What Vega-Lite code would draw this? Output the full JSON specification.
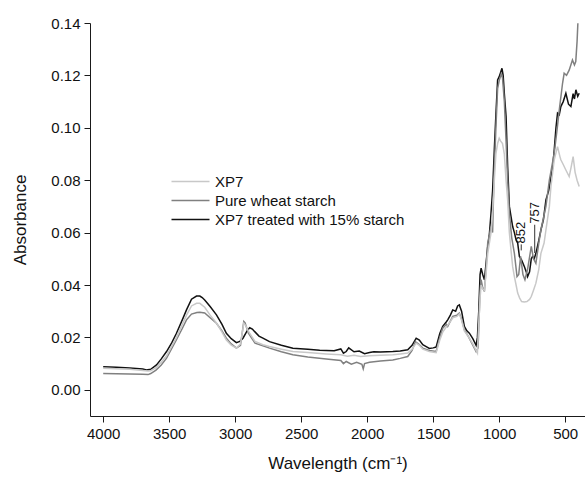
{
  "$schema": "https://vega.github.io/schema/vega-lite/v6.json",
  "autosize": "none",
  "width": 495,
  "height": 393,
  "padding": {"left": 90, "top": 23, "right": 0, "bottom": 65},
  "background": "white",
  "config": {
    "view": {"stroke": null},
    "font": "Liberation Sans",
    "axis": {
      "grid": false,
      "domainColor": "#1a1a1a",
      "tickColor": "#1a1a1a",
      "labelColor": "#111",
      "titleColor": "#111",
      "labelFont": "Liberation Sans",
      "titleFont": "Liberation Sans",
      "labelFontSize": 15,
      "titleFontSize": 17,
      "titleFontWeight": "normal",
      "labelOverlap": false,
      "labelFlush": false
    }
  },
  "datasets": {
    "spectra": [
      {"s": "XP7 treated with 15% starch", "w": 4000, "a": 0.0088},
      {"s": "XP7 treated with 15% starch", "w": 3900, "a": 0.0086},
      {"s": "XP7 treated with 15% starch", "w": 3800, "a": 0.0083},
      {"s": "XP7 treated with 15% starch", "w": 3700, "a": 0.0079},
      {"s": "XP7 treated with 15% starch", "w": 3672, "a": 0.0076},
      {"s": "XP7 treated with 15% starch", "w": 3640, "a": 0.0078},
      {"s": "XP7 treated with 15% starch", "w": 3596, "a": 0.0095},
      {"s": "XP7 treated with 15% starch", "w": 3560, "a": 0.0118},
      {"s": "XP7 treated with 15% starch", "w": 3520, "a": 0.0146},
      {"s": "XP7 treated with 15% starch", "w": 3480, "a": 0.018},
      {"s": "XP7 treated with 15% starch", "w": 3445, "a": 0.0216},
      {"s": "XP7 treated with 15% starch", "w": 3400, "a": 0.0268},
      {"s": "XP7 treated with 15% starch", "w": 3369, "a": 0.0305},
      {"s": "XP7 treated with 15% starch", "w": 3331, "a": 0.0346},
      {"s": "XP7 treated with 15% starch", "w": 3293, "a": 0.0358},
      {"s": "XP7 treated with 15% starch", "w": 3268, "a": 0.0358},
      {"s": "XP7 treated with 15% starch", "w": 3250, "a": 0.0352},
      {"s": "XP7 treated with 15% starch", "w": 3231, "a": 0.0343},
      {"s": "XP7 treated with 15% starch", "w": 3190, "a": 0.0318},
      {"s": "XP7 treated with 15% starch", "w": 3142, "a": 0.0286},
      {"s": "XP7 treated with 15% starch", "w": 3100, "a": 0.025},
      {"s": "XP7 treated with 15% starch", "w": 3067, "a": 0.0216},
      {"s": "XP7 treated with 15% starch", "w": 3030, "a": 0.0195},
      {"s": "XP7 treated with 15% starch", "w": 2991, "a": 0.018},
      {"s": "XP7 treated with 15% starch", "w": 2965, "a": 0.0185},
      {"s": "XP7 treated with 15% starch", "w": 2941, "a": 0.0197},
      {"s": "XP7 treated with 15% starch", "w": 2910, "a": 0.0225},
      {"s": "XP7 treated with 15% starch", "w": 2890, "a": 0.0237},
      {"s": "XP7 treated with 15% starch", "w": 2870, "a": 0.0232},
      {"s": "XP7 treated with 15% starch", "w": 2852, "a": 0.0222},
      {"s": "XP7 treated with 15% starch", "w": 2820, "a": 0.0205},
      {"s": "XP7 treated with 15% starch", "w": 2790, "a": 0.0197},
      {"s": "XP7 treated with 15% starch", "w": 2740, "a": 0.0184},
      {"s": "XP7 treated with 15% starch", "w": 2650, "a": 0.017},
      {"s": "XP7 treated with 15% starch", "w": 2563, "a": 0.0159},
      {"s": "XP7 treated with 15% starch", "w": 2450, "a": 0.0155},
      {"s": "XP7 treated with 15% starch", "w": 2360, "a": 0.0151},
      {"s": "XP7 treated with 15% starch", "w": 2310, "a": 0.015},
      {"s": "XP7 treated with 15% starch", "w": 2250, "a": 0.0149},
      {"s": "XP7 treated with 15% starch", "w": 2200, "a": 0.0156},
      {"s": "XP7 treated with 15% starch", "w": 2180, "a": 0.014},
      {"s": "XP7 treated with 15% starch", "w": 2159, "a": 0.0146},
      {"s": "XP7 treated with 15% starch", "w": 2140, "a": 0.016},
      {"s": "XP7 treated with 15% starch", "w": 2100, "a": 0.0145},
      {"s": "XP7 treated with 15% starch", "w": 2060, "a": 0.0148},
      {"s": "XP7 treated with 15% starch", "w": 2020, "a": 0.0138},
      {"s": "XP7 treated with 15% starch", "w": 1982, "a": 0.0142},
      {"s": "XP7 treated with 15% starch", "w": 1950, "a": 0.0145},
      {"s": "XP7 treated with 15% starch", "w": 1900, "a": 0.0144},
      {"s": "XP7 treated with 15% starch", "w": 1850, "a": 0.0145},
      {"s": "XP7 treated with 15% starch", "w": 1806, "a": 0.0146},
      {"s": "XP7 treated with 15% starch", "w": 1750, "a": 0.0148},
      {"s": "XP7 treated with 15% starch", "w": 1693, "a": 0.0153},
      {"s": "XP7 treated with 15% starch", "w": 1660, "a": 0.017},
      {"s": "XP7 treated with 15% starch", "w": 1629, "a": 0.0197},
      {"s": "XP7 treated with 15% starch", "w": 1605, "a": 0.019},
      {"s": "XP7 treated with 15% starch", "w": 1579, "a": 0.0172},
      {"s": "XP7 treated with 15% starch", "w": 1553, "a": 0.0165},
      {"s": "XP7 treated with 15% starch", "w": 1529, "a": 0.0158},
      {"s": "XP7 treated with 15% starch", "w": 1500, "a": 0.016},
      {"s": "XP7 treated with 15% starch", "w": 1478, "a": 0.0163},
      {"s": "XP7 treated with 15% starch", "w": 1450, "a": 0.0215},
      {"s": "XP7 treated with 15% starch", "w": 1428, "a": 0.0242},
      {"s": "XP7 treated with 15% starch", "w": 1400, "a": 0.026},
      {"s": "XP7 treated with 15% starch", "w": 1390, "a": 0.0267},
      {"s": "XP7 treated with 15% starch", "w": 1370, "a": 0.0285},
      {"s": "XP7 treated with 15% starch", "w": 1352, "a": 0.0305},
      {"s": "XP7 treated with 15% starch", "w": 1330, "a": 0.03},
      {"s": "XP7 treated with 15% starch", "w": 1315, "a": 0.032},
      {"s": "XP7 treated with 15% starch", "w": 1302, "a": 0.0324},
      {"s": "XP7 treated with 15% starch", "w": 1285, "a": 0.03},
      {"s": "XP7 treated with 15% starch", "w": 1264, "a": 0.0242},
      {"s": "XP7 treated with 15% starch", "w": 1245, "a": 0.0225},
      {"s": "XP7 treated with 15% starch", "w": 1226, "a": 0.0216},
      {"s": "XP7 treated with 15% starch", "w": 1200, "a": 0.0195},
      {"s": "XP7 treated with 15% starch", "w": 1175, "a": 0.017},
      {"s": "XP7 treated with 15% starch", "w": 1165, "a": 0.02},
      {"s": "XP7 treated with 15% starch", "w": 1155, "a": 0.0299},
      {"s": "XP7 treated with 15% starch", "w": 1145, "a": 0.044},
      {"s": "XP7 treated with 15% starch", "w": 1137, "a": 0.0464},
      {"s": "XP7 treated with 15% starch", "w": 1125, "a": 0.044},
      {"s": "XP7 treated with 15% starch", "w": 1112, "a": 0.042},
      {"s": "XP7 treated with 15% starch", "w": 1100, "a": 0.048},
      {"s": "XP7 treated with 15% starch", "w": 1087, "a": 0.0547},
      {"s": "XP7 treated with 15% starch", "w": 1075, "a": 0.059},
      {"s": "XP7 treated with 15% starch", "w": 1062, "a": 0.0674},
      {"s": "XP7 treated with 15% starch", "w": 1050, "a": 0.076},
      {"s": "XP7 treated with 15% starch", "w": 1037, "a": 0.0916},
      {"s": "XP7 treated with 15% starch", "w": 1025, "a": 0.105},
      {"s": "XP7 treated with 15% starch", "w": 1012, "a": 0.1183},
      {"s": "XP7 treated with 15% starch", "w": 1000, "a": 0.1195},
      {"s": "XP7 treated with 15% starch", "w": 990, "a": 0.121},
      {"s": "XP7 treated with 15% starch", "w": 979, "a": 0.1227},
      {"s": "XP7 treated with 15% starch", "w": 970, "a": 0.12},
      {"s": "XP7 treated with 15% starch", "w": 961, "a": 0.113},
      {"s": "XP7 treated with 15% starch", "w": 948, "a": 0.1043},
      {"s": "XP7 treated with 15% starch", "w": 936, "a": 0.0852},
      {"s": "XP7 treated with 15% starch", "w": 923, "a": 0.07},
      {"s": "XP7 treated with 15% starch", "w": 910, "a": 0.066},
      {"s": "XP7 treated with 15% starch", "w": 898, "a": 0.0623},
      {"s": "XP7 treated with 15% starch", "w": 885, "a": 0.06},
      {"s": "XP7 treated with 15% starch", "w": 872, "a": 0.0572},
      {"s": "XP7 treated with 15% starch", "w": 860, "a": 0.056},
      {"s": "XP7 treated with 15% starch", "w": 847, "a": 0.0509},
      {"s": "XP7 treated with 15% starch", "w": 830, "a": 0.0495},
      {"s": "XP7 treated with 15% starch", "w": 809, "a": 0.047},
      {"s": "XP7 treated with 15% starch", "w": 795, "a": 0.045},
      {"s": "XP7 treated with 15% starch", "w": 785, "a": 0.0432},
      {"s": "XP7 treated with 15% starch", "w": 770, "a": 0.045},
      {"s": "XP7 treated with 15% starch", "w": 757, "a": 0.05},
      {"s": "XP7 treated with 15% starch", "w": 747, "a": 0.0509},
      {"s": "XP7 treated with 15% starch", "w": 735, "a": 0.05},
      {"s": "XP7 treated with 15% starch", "w": 722, "a": 0.0521},
      {"s": "XP7 treated with 15% starch", "w": 700, "a": 0.057},
      {"s": "XP7 treated with 15% starch", "w": 684, "a": 0.061},
      {"s": "XP7 treated with 15% starch", "w": 665, "a": 0.065},
      {"s": "XP7 treated with 15% starch", "w": 646, "a": 0.0725},
      {"s": "XP7 treated with 15% starch", "w": 625, "a": 0.076},
      {"s": "XP7 treated with 15% starch", "w": 608, "a": 0.0814},
      {"s": "XP7 treated with 15% starch", "w": 595, "a": 0.085},
      {"s": "XP7 treated with 15% starch", "w": 583, "a": 0.0916},
      {"s": "XP7 treated with 15% starch", "w": 570, "a": 0.1},
      {"s": "XP7 treated with 15% starch", "w": 558, "a": 0.1056},
      {"s": "XP7 treated with 15% starch", "w": 545, "a": 0.105},
      {"s": "XP7 treated with 15% starch", "w": 533, "a": 0.1081},
      {"s": "XP7 treated with 15% starch", "w": 515, "a": 0.11},
      {"s": "XP7 treated with 15% starch", "w": 495, "a": 0.1132},
      {"s": "XP7 treated with 15% starch", "w": 475, "a": 0.109},
      {"s": "XP7 treated with 15% starch", "w": 457, "a": 0.1081},
      {"s": "XP7 treated with 15% starch", "w": 440, "a": 0.113},
      {"s": "XP7 treated with 15% starch", "w": 430, "a": 0.111},
      {"s": "XP7 treated with 15% starch", "w": 419, "a": 0.1145},
      {"s": "XP7 treated with 15% starch", "w": 405, "a": 0.112},
      {"s": "XP7 treated with 15% starch", "w": 394, "a": 0.1132},

      {"s": "Pure wheat starch", "w": 4000, "a": 0.0062},
      {"s": "Pure wheat starch", "w": 3900, "a": 0.0061},
      {"s": "Pure wheat starch", "w": 3800, "a": 0.006},
      {"s": "Pure wheat starch", "w": 3700, "a": 0.0059},
      {"s": "Pure wheat starch", "w": 3660, "a": 0.0058},
      {"s": "Pure wheat starch", "w": 3640, "a": 0.0062},
      {"s": "Pure wheat starch", "w": 3600, "a": 0.0075},
      {"s": "Pure wheat starch", "w": 3560, "a": 0.0095},
      {"s": "Pure wheat starch", "w": 3520, "a": 0.0121},
      {"s": "Pure wheat starch", "w": 3445, "a": 0.0191},
      {"s": "Pure wheat starch", "w": 3400, "a": 0.0235},
      {"s": "Pure wheat starch", "w": 3369, "a": 0.0267},
      {"s": "Pure wheat starch", "w": 3331, "a": 0.0289},
      {"s": "Pure wheat starch", "w": 3290, "a": 0.0295},
      {"s": "Pure wheat starch", "w": 3268, "a": 0.0296},
      {"s": "Pure wheat starch", "w": 3231, "a": 0.0293},
      {"s": "Pure wheat starch", "w": 3190, "a": 0.0275},
      {"s": "Pure wheat starch", "w": 3142, "a": 0.0254},
      {"s": "Pure wheat starch", "w": 3100, "a": 0.0225},
      {"s": "Pure wheat starch", "w": 3067, "a": 0.0197},
      {"s": "Pure wheat starch", "w": 3030, "a": 0.0175},
      {"s": "Pure wheat starch", "w": 2991, "a": 0.0159},
      {"s": "Pure wheat starch", "w": 2960, "a": 0.017},
      {"s": "Pure wheat starch", "w": 2935, "a": 0.0261},
      {"s": "Pure wheat starch", "w": 2925, "a": 0.0255},
      {"s": "Pure wheat starch", "w": 2900, "a": 0.0216},
      {"s": "Pure wheat starch", "w": 2850, "a": 0.0178},
      {"s": "Pure wheat starch", "w": 2790, "a": 0.0168},
      {"s": "Pure wheat starch", "w": 2740, "a": 0.0159},
      {"s": "Pure wheat starch", "w": 2650, "a": 0.0145},
      {"s": "Pure wheat starch", "w": 2563, "a": 0.0134},
      {"s": "Pure wheat starch", "w": 2450, "a": 0.0125},
      {"s": "Pure wheat starch", "w": 2310, "a": 0.0118},
      {"s": "Pure wheat starch", "w": 2200, "a": 0.0112},
      {"s": "Pure wheat starch", "w": 2180, "a": 0.01},
      {"s": "Pure wheat starch", "w": 2159, "a": 0.0108},
      {"s": "Pure wheat starch", "w": 2120, "a": 0.0098},
      {"s": "Pure wheat starch", "w": 2080, "a": 0.0105},
      {"s": "Pure wheat starch", "w": 2040, "a": 0.0097},
      {"s": "Pure wheat starch", "w": 2030, "a": 0.008},
      {"s": "Pure wheat starch", "w": 2020, "a": 0.01},
      {"s": "Pure wheat starch", "w": 1982, "a": 0.0105},
      {"s": "Pure wheat starch", "w": 1900, "a": 0.011},
      {"s": "Pure wheat starch", "w": 1806, "a": 0.0114},
      {"s": "Pure wheat starch", "w": 1750, "a": 0.012},
      {"s": "Pure wheat starch", "w": 1693, "a": 0.0127},
      {"s": "Pure wheat starch", "w": 1660, "a": 0.015},
      {"s": "Pure wheat starch", "w": 1635, "a": 0.0184},
      {"s": "Pure wheat starch", "w": 1610, "a": 0.0175},
      {"s": "Pure wheat starch", "w": 1579, "a": 0.0159},
      {"s": "Pure wheat starch", "w": 1530, "a": 0.015},
      {"s": "Pure wheat starch", "w": 1478, "a": 0.0146},
      {"s": "Pure wheat starch", "w": 1450, "a": 0.02},
      {"s": "Pure wheat starch", "w": 1428, "a": 0.0235},
      {"s": "Pure wheat starch", "w": 1400, "a": 0.025},
      {"s": "Pure wheat starch", "w": 1390, "a": 0.0242},
      {"s": "Pure wheat starch", "w": 1352, "a": 0.028},
      {"s": "Pure wheat starch", "w": 1320, "a": 0.0285},
      {"s": "Pure wheat starch", "w": 1302, "a": 0.0293},
      {"s": "Pure wheat starch", "w": 1285, "a": 0.027},
      {"s": "Pure wheat starch", "w": 1264, "a": 0.0229},
      {"s": "Pure wheat starch", "w": 1230, "a": 0.02},
      {"s": "Pure wheat starch", "w": 1200, "a": 0.017},
      {"s": "Pure wheat starch", "w": 1175, "a": 0.0146},
      {"s": "Pure wheat starch", "w": 1160, "a": 0.016},
      {"s": "Pure wheat starch", "w": 1145, "a": 0.038},
      {"s": "Pure wheat starch", "w": 1137, "a": 0.042},
      {"s": "Pure wheat starch", "w": 1125, "a": 0.039},
      {"s": "Pure wheat starch", "w": 1112, "a": 0.0375},
      {"s": "Pure wheat starch", "w": 1100, "a": 0.046},
      {"s": "Pure wheat starch", "w": 1087, "a": 0.056},
      {"s": "Pure wheat starch", "w": 1062, "a": 0.0623},
      {"s": "Pure wheat starch", "w": 1050, "a": 0.06},
      {"s": "Pure wheat starch", "w": 1040, "a": 0.08},
      {"s": "Pure wheat starch", "w": 1025, "a": 0.1},
      {"s": "Pure wheat starch", "w": 1012, "a": 0.115},
      {"s": "Pure wheat starch", "w": 1000, "a": 0.118},
      {"s": "Pure wheat starch", "w": 985, "a": 0.1205},
      {"s": "Pure wheat starch", "w": 975, "a": 0.119},
      {"s": "Pure wheat starch", "w": 961, "a": 0.11},
      {"s": "Pure wheat starch", "w": 948, "a": 0.095},
      {"s": "Pure wheat starch", "w": 936, "a": 0.08},
      {"s": "Pure wheat starch", "w": 923, "a": 0.0674},
      {"s": "Pure wheat starch", "w": 905, "a": 0.058},
      {"s": "Pure wheat starch", "w": 885, "a": 0.0521},
      {"s": "Pure wheat starch", "w": 865, "a": 0.0432},
      {"s": "Pure wheat starch", "w": 852, "a": 0.044},
      {"s": "Pure wheat starch", "w": 838, "a": 0.0509},
      {"s": "Pure wheat starch", "w": 820, "a": 0.044},
      {"s": "Pure wheat starch", "w": 805, "a": 0.042},
      {"s": "Pure wheat starch", "w": 785, "a": 0.046},
      {"s": "Pure wheat starch", "w": 757, "a": 0.0547},
      {"s": "Pure wheat starch", "w": 740, "a": 0.05},
      {"s": "Pure wheat starch", "w": 722, "a": 0.0483},
      {"s": "Pure wheat starch", "w": 700, "a": 0.056},
      {"s": "Pure wheat starch", "w": 684, "a": 0.061},
      {"s": "Pure wheat starch", "w": 646, "a": 0.07},
      {"s": "Pure wheat starch", "w": 620, "a": 0.08},
      {"s": "Pure wheat starch", "w": 583, "a": 0.0903},
      {"s": "Pure wheat starch", "w": 560, "a": 0.1},
      {"s": "Pure wheat starch", "w": 545, "a": 0.1068},
      {"s": "Pure wheat starch", "w": 520, "a": 0.117},
      {"s": "Pure wheat starch", "w": 508, "a": 0.1208},
      {"s": "Pure wheat starch", "w": 490, "a": 0.12},
      {"s": "Pure wheat starch", "w": 470, "a": 0.122},
      {"s": "Pure wheat starch", "w": 445, "a": 0.1259},
      {"s": "Pure wheat starch", "w": 430, "a": 0.124},
      {"s": "Pure wheat starch", "w": 420, "a": 0.1253},
      {"s": "Pure wheat starch", "w": 410, "a": 0.133},
      {"s": "Pure wheat starch", "w": 404, "a": 0.1399},

      {"s": "XP7", "w": 4000, "a": 0.0082},
      {"s": "XP7", "w": 3900, "a": 0.008},
      {"s": "XP7", "w": 3800, "a": 0.0078},
      {"s": "XP7", "w": 3700, "a": 0.0074},
      {"s": "XP7", "w": 3660, "a": 0.0072},
      {"s": "XP7", "w": 3640, "a": 0.0073},
      {"s": "XP7", "w": 3600, "a": 0.0085},
      {"s": "XP7", "w": 3560, "a": 0.0105},
      {"s": "XP7", "w": 3520, "a": 0.013},
      {"s": "XP7", "w": 3445, "a": 0.02},
      {"s": "XP7", "w": 3400, "a": 0.025},
      {"s": "XP7", "w": 3369, "a": 0.0285},
      {"s": "XP7", "w": 3331, "a": 0.032},
      {"s": "XP7", "w": 3293, "a": 0.033},
      {"s": "XP7", "w": 3268, "a": 0.033},
      {"s": "XP7", "w": 3231, "a": 0.0315},
      {"s": "XP7", "w": 3190, "a": 0.0285},
      {"s": "XP7", "w": 3142, "a": 0.0255},
      {"s": "XP7", "w": 3100, "a": 0.022},
      {"s": "XP7", "w": 3067, "a": 0.019},
      {"s": "XP7", "w": 3030, "a": 0.017},
      {"s": "XP7", "w": 2991, "a": 0.0159},
      {"s": "XP7", "w": 2960, "a": 0.0175},
      {"s": "XP7", "w": 2935, "a": 0.0254},
      {"s": "XP7", "w": 2920, "a": 0.0245},
      {"s": "XP7", "w": 2890, "a": 0.0215},
      {"s": "XP7", "w": 2850, "a": 0.0185},
      {"s": "XP7", "w": 2790, "a": 0.0172},
      {"s": "XP7", "w": 2740, "a": 0.0165},
      {"s": "XP7", "w": 2650, "a": 0.0155},
      {"s": "XP7", "w": 2563, "a": 0.0146},
      {"s": "XP7", "w": 2450, "a": 0.0142},
      {"s": "XP7", "w": 2310, "a": 0.0137},
      {"s": "XP7", "w": 2200, "a": 0.0134},
      {"s": "XP7", "w": 2150, "a": 0.0128},
      {"s": "XP7", "w": 2100, "a": 0.0132},
      {"s": "XP7", "w": 2050, "a": 0.0127},
      {"s": "XP7", "w": 1982, "a": 0.013},
      {"s": "XP7", "w": 1900, "a": 0.0132},
      {"s": "XP7", "w": 1806, "a": 0.0134},
      {"s": "XP7", "w": 1750, "a": 0.0137},
      {"s": "XP7", "w": 1693, "a": 0.014},
      {"s": "XP7", "w": 1660, "a": 0.0155},
      {"s": "XP7", "w": 1629, "a": 0.0178},
      {"s": "XP7", "w": 1605, "a": 0.017},
      {"s": "XP7", "w": 1579, "a": 0.0155},
      {"s": "XP7", "w": 1530, "a": 0.0146},
      {"s": "XP7", "w": 1478, "a": 0.0142},
      {"s": "XP7", "w": 1450, "a": 0.019},
      {"s": "XP7", "w": 1428, "a": 0.022},
      {"s": "XP7", "w": 1400, "a": 0.024},
      {"s": "XP7", "w": 1370, "a": 0.026},
      {"s": "XP7", "w": 1352, "a": 0.0275},
      {"s": "XP7", "w": 1320, "a": 0.028},
      {"s": "XP7", "w": 1302, "a": 0.029},
      {"s": "XP7", "w": 1285, "a": 0.0265},
      {"s": "XP7", "w": 1264, "a": 0.0225},
      {"s": "XP7", "w": 1230, "a": 0.02},
      {"s": "XP7", "w": 1200, "a": 0.0175},
      {"s": "XP7", "w": 1175, "a": 0.015},
      {"s": "XP7", "w": 1165, "a": 0.014},
      {"s": "XP7", "w": 1155, "a": 0.025},
      {"s": "XP7", "w": 1145, "a": 0.035},
      {"s": "XP7", "w": 1137, "a": 0.04},
      {"s": "XP7", "w": 1125, "a": 0.0385},
      {"s": "XP7", "w": 1112, "a": 0.038},
      {"s": "XP7", "w": 1100, "a": 0.044},
      {"s": "XP7", "w": 1087, "a": 0.052},
      {"s": "XP7", "w": 1062, "a": 0.06},
      {"s": "XP7", "w": 1050, "a": 0.068},
      {"s": "XP7", "w": 1037, "a": 0.08},
      {"s": "XP7", "w": 1025, "a": 0.09},
      {"s": "XP7", "w": 1012, "a": 0.094},
      {"s": "XP7", "w": 1000, "a": 0.096},
      {"s": "XP7", "w": 990, "a": 0.095},
      {"s": "XP7", "w": 975, "a": 0.094},
      {"s": "XP7", "w": 961, "a": 0.09},
      {"s": "XP7", "w": 948, "a": 0.08},
      {"s": "XP7", "w": 936, "a": 0.0725},
      {"s": "XP7", "w": 923, "a": 0.06},
      {"s": "XP7", "w": 910, "a": 0.053},
      {"s": "XP7", "w": 898, "a": 0.047},
      {"s": "XP7", "w": 885, "a": 0.0432},
      {"s": "XP7", "w": 872, "a": 0.04},
      {"s": "XP7", "w": 860, "a": 0.0369},
      {"s": "XP7", "w": 845, "a": 0.035},
      {"s": "XP7", "w": 830, "a": 0.0337},
      {"s": "XP7", "w": 810, "a": 0.0335},
      {"s": "XP7", "w": 790, "a": 0.0337},
      {"s": "XP7", "w": 770, "a": 0.0345},
      {"s": "XP7", "w": 757, "a": 0.0356},
      {"s": "XP7", "w": 740, "a": 0.038},
      {"s": "XP7", "w": 722, "a": 0.0407},
      {"s": "XP7", "w": 700, "a": 0.046},
      {"s": "XP7", "w": 684, "a": 0.0521},
      {"s": "XP7", "w": 660, "a": 0.056},
      {"s": "XP7", "w": 646, "a": 0.061},
      {"s": "XP7", "w": 620, "a": 0.07},
      {"s": "XP7", "w": 608, "a": 0.0776},
      {"s": "XP7", "w": 583, "a": 0.0878},
      {"s": "XP7", "w": 558, "a": 0.0928},
      {"s": "XP7", "w": 540, "a": 0.089},
      {"s": "XP7", "w": 533, "a": 0.0878},
      {"s": "XP7", "w": 515, "a": 0.086},
      {"s": "XP7", "w": 495, "a": 0.0839},
      {"s": "XP7", "w": 470, "a": 0.0814},
      {"s": "XP7", "w": 455, "a": 0.085},
      {"s": "XP7", "w": 440, "a": 0.089},
      {"s": "XP7", "w": 425, "a": 0.083},
      {"s": "XP7", "w": 410, "a": 0.08},
      {"s": "XP7", "w": 394, "a": 0.0776}
    ],
    "labels": [
      {"label": "852", "w": 833, "a": 0.0555, "a2": 0.0532},
      {"label": "757", "w": 731, "a": 0.0630, "a2": 0.0522}
    ]
  },
  "layer": [
    {
      "data": {"name": "spectra"},
      "mark": {"type": "line", "strokeWidth": 1.5, "clip": true},
      "encoding": {
        "x": {
          "field": "w", "type": "quantitative",
          "scale": {"domain": [4100, 350], "nice": false, "zero": false},
          "axis": {
            "title": "Wavelength (cm⁻¹)",
            "values": [4000, 3750, 3500, 3250, 3000, 2750, 2500, 2250, 2000, 1750, 1500, 1250, 1000, 750, 500],
            "labelExpr": "datum.value % 500 === 0 ? format(datum.value, 'd') : ''",
            "tickSize": {"condition": {"test": "datum.value % 500 === 0", "value": 6}, "value": 3},
            "labelPadding": 4,
            "titlePadding": 14
          }
        },
        "y": {
          "field": "a", "type": "quantitative",
          "scale": {"domain": [-0.01, 0.14], "nice": false, "zero": false},
          "axis": {
            "title": "Absorbance",
            "values": [0, 0.01, 0.02, 0.03, 0.04, 0.05, 0.06, 0.07, 0.08, 0.09, 0.1, 0.11, 0.12, 0.13, 0.14],
            "labelExpr": "round(datum.value * 100) % 2 === 0 ? format(datum.value, '.2f') : ''",
            "tickSize": {"condition": {"test": "round(datum.value * 100) % 2 === 0", "value": 6}, "value": 3},
            "labelPadding": 4,
            "titlePadding": 21
          }
        },
        "color": {
          "field": "s", "type": "nominal",
          "scale": {
            "domain": ["XP7", "Pure wheat starch", "XP7 treated with 15% starch"],
            "range": ["#c8c8c8", "#808080", "#111111"]
          },
          "legend": {
            "title": null,
            "orient": "none",
            "legendX": 90,
            "legendY": 148,
            "symbolType": "M-2,0H2",
            "symbolSize": 361,
            "symbolStrokeWidth": 1.5,
            "labelFontSize": 15,
            "labelFont": "Liberation Sans",
            "labelColor": "#111",
            "labelLimit": 400,
            "labelOffset": 14,
            "rowPadding": 0,
            "padding": 0
          }
        }
      }
    },
    {
      "data": {"name": "labels"},
      "mark": {"type": "rule", "color": "#333", "strokeWidth": 1},
      "encoding": {
        "x": {"field": "w", "type": "quantitative"},
        "y": {"field": "a", "type": "quantitative"},
        "y2": {"field": "a2"}
      }
    },
    {
      "data": {"name": "labels"},
      "mark": {"type": "text", "angle": 270, "align": "left", "baseline": "middle", "fontSize": 13, "font": "Liberation Sans", "color": "#111", "dx": 1},
      "encoding": {
        "x": {"field": "w", "type": "quantitative"},
        "y": {"field": "a", "type": "quantitative"},
        "text": {"field": "label"}
      }
    }
  ]
}
